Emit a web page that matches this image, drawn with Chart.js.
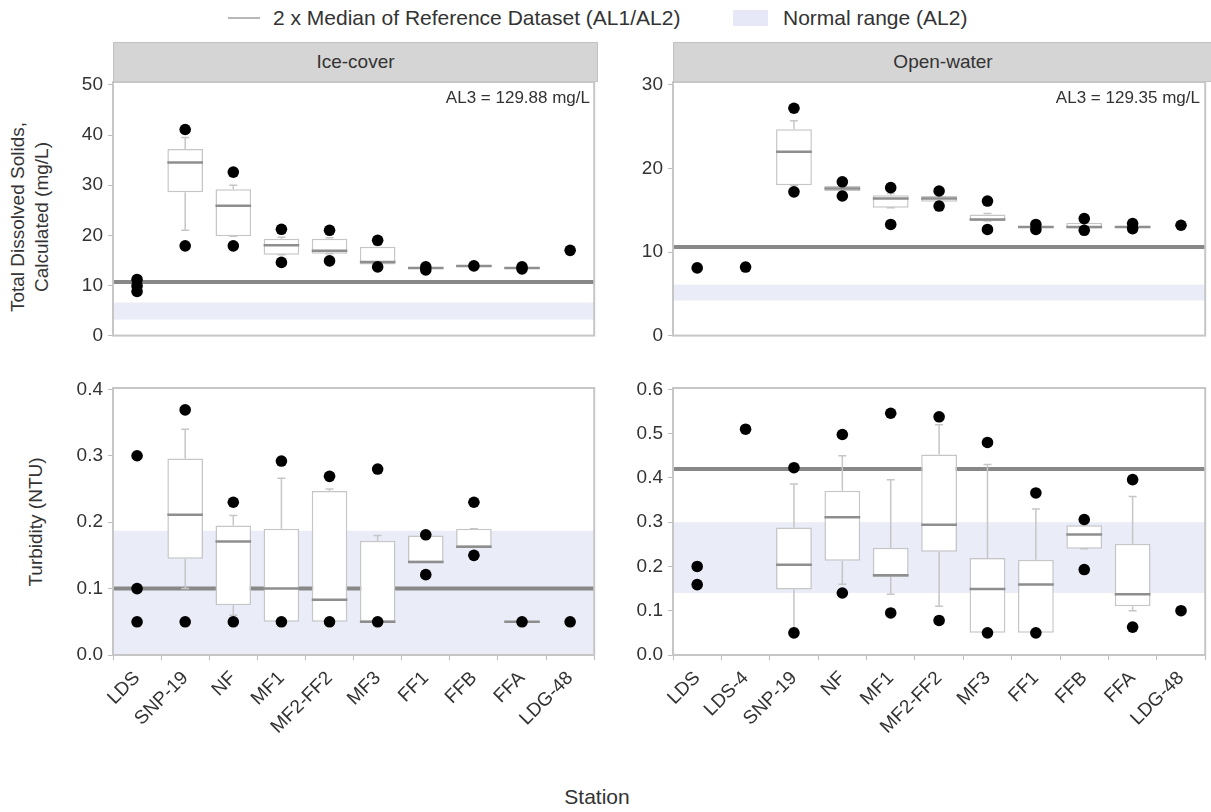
<!DOCTYPE html>
<html>
<head>
<meta charset="utf-8">
<script src="https://cdn.jsdelivr.net/npm/chart.js@4.4.0/dist/chart.umd.min.js"></script>
<style>
    body { margin: 0; width: 1211px; height: 812px; background: #fff; position: relative; overflow: hidden;
           font-family: 'Liberation Sans', Arial, sans-serif; color: #333; }
    .abs { position: absolute; white-space: nowrap; }
    canvas { position: absolute; }
    .strip { position: absolute; top: 42px; height: 40px; box-sizing: border-box; background: #d5d5d5;
             border: 1px solid #c2c2c2; text-align: center; line-height: 38px; font-size: 19px; }
    .ytitle { position: absolute; transform: translate(-50%, -50%) rotate(-90deg); text-align: center;
              font-size: 19px; line-height: 24px; white-space: nowrap; }
</style>
</head>
<body>
<div class="abs" style="left:228px;top:17px;width:32px;height:2px;background:#b8b8b8"></div>
<div class="abs" style="left:273px;top:6px;font-size:21px;line-height:24px">2 x Median of Reference Dataset (AL1/AL2)</div>
<div class="abs" style="left:733px;top:10px;width:35px;height:16px;background:#e6e8f7"></div>
<div class="abs" style="left:783px;top:6px;font-size:21px;line-height:24px">Normal range (AL2)</div>

<div class="strip" style="left:113px;width:485px">Ice-cover</div>
<div class="strip" style="left:673px;width:540px">Open-water</div>

<div class="ytitle" style="left:30px;top:217px">Total Dissolved Solids,<br>Calculated (mg/L)</div>
<div class="ytitle" style="left:36px;top:522px">Turbidity (NTU)</div>

<canvas id="tdsIce" width="600" height="292" style="left:0;top:60px"></canvas>
<canvas id="tdsOpen" width="611" height="292" style="left:600px;top:60px"></canvas>
<canvas id="turbIce" width="600" height="397" style="left:0;top:368px"></canvas>
<canvas id="turbOpen" width="611" height="397" style="left:600px;top:368px"></canvas>

<div class="abs" style="right:621px;top:88px;font-size:17px">AL3 = 129.88 mg/L</div>
<div class="abs" style="right:11px;top:88px;font-size:17px">AL3 = 129.35 mg/L</div>
<div class="abs" style="left:597px;top:785px;font-size:21px;line-height:24px;transform:translateX(-50%)">Station</div>

<script>
// stations
const iceStations = ['LDS', 'SNP-19', 'NF', 'MF1', 'MF2-FF2', 'MF3', 'FF1', 'FFB', 'FFA', 'LDG-48'];
const openStations = ['LDS', 'LDS-4', 'SNP-19', 'NF', 'MF1', 'MF2-FF2', 'MF3', 'FF1', 'FFB', 'FFA', 'LDG-48'];

// TDS, ice-cover (mg/L)
const tdsIceLo  = [null, 21.0, 19.8, 16.1, 16.3, 14.2, 13.5, 13.9, 13.5, null];
const tdsIceQ1  = [null, 28.6, 19.8, 16.1, 16.3, 14.2, 13.5, 13.9, 13.5, null];
const tdsIceMed = [null, 34.5, 25.9, 18.0, 16.9, 14.7, 13.5, 13.9, 13.5, null];
const tdsIceQ3  = [null, 37.2, 29.2, 19.3, 19.3, 17.7, 13.5, 13.9, 13.5, null];
const tdsIceHi  = [null, 39.5, 30.0, 19.6, 19.5, 18.0, 13.5, 13.9, 13.5, null];
const tdsIceDots = [[8.8, 9.9, 11.2], [41.1, 17.9], [32.6, 17.9], [21.2, 14.6], [21.0, 14.9],
                    [19.0, 13.7], [13.7, 13.1], [13.9], [13.7, 13.3], [17.0]];

// TDS, open-water (mg/L)
const tdsOpenLo  = [null, null, 18.0, 17.3, 15.3, 16.0, 13.7, 13.0, 12.8, 13.0, null];
const tdsOpenQ1  = [null, null, 18.0, 17.3, 15.3, 16.0, 13.7, 13.0, 12.8, 13.0, null];
const tdsOpenMed = [null, null, 22.0, 17.6, 16.4, 16.4, 13.9, 13.0, 13.0, 13.0, null];
const tdsOpenQ3  = [null, null, 24.7, 17.9, 16.8, 16.7, 14.5, 13.0, 13.5, 13.0, null];
const tdsOpenHi  = [null, null, 25.7, 18.0, 17.0, 16.9, 14.6, 13.0, 13.8, 13.0, null];
const tdsOpenDots = [[8.1], [8.2], [27.2, 17.2], [18.4, 16.7], [17.7, 13.3], [17.3, 15.5],
                     [16.1, 12.7], [13.3, 12.7], [14.0, 12.6], [13.4, 12.8], [13.2]];

// Turbidity, ice-cover (NTU)
const turbIceLo  = [null, 0.10, 0.06, 0.05, 0.05, 0.05, 0.14, 0.163, 0.05, null];
const turbIceQ1  = [null, 0.145, 0.075, 0.05, 0.05, 0.05, 0.14, 0.163, 0.05, null];
const turbIceMed = [null, 0.211, 0.171, 0.10, 0.083, 0.05, 0.14, 0.163, 0.05, null];
const turbIceQ3  = [null, 0.296, 0.195, 0.19, 0.247, 0.172, 0.18, 0.19, 0.05, null];
const turbIceHi  = [null, 0.34, 0.21, 0.266, 0.25, 0.18, 0.18, 0.19, 0.05, null];
const turbIceDots = [[0.30, 0.10, 0.05], [0.369, 0.05], [0.23, 0.05], [0.292, 0.05], [0.269, 0.05],
                     [0.28, 0.05], [0.181, 0.121], [0.23, 0.15], [0.05], [0.05]];

// Turbidity, open-water (NTU)
const turbOpenLo  = [null, null, 0.06, 0.16, 0.137, 0.11, 0.05, 0.05, 0.24, 0.10, null];
const turbOpenQ1  = [null, null, 0.148, 0.213, 0.176, 0.233, 0.05, 0.05, 0.24, 0.11, null];
const turbOpenMed = [null, null, 0.204, 0.311, 0.18, 0.294, 0.149, 0.159, 0.272, 0.137, null];
const turbOpenQ3  = [null, null, 0.288, 0.371, 0.242, 0.453, 0.219, 0.215, 0.293, 0.251, null];
const turbOpenHi  = [null, null, 0.386, 0.45, 0.396, 0.52, 0.43, 0.33, 0.293, 0.358, null];
const turbOpenDots = [[0.20, 0.159], [0.51], [0.423, 0.05], [0.498, 0.14], [0.546, 0.095], [0.538, 0.078],
                      [0.48, 0.05], [0.366, 0.05], [0.306, 0.193], [0.396, 0.063], [0.10]];

// reference lines (2 x median) and normal ranges
const tdsIceRef = 10.7, tdsOpenRef = 10.6, turbIceRef = 0.1, turbOpenRef = 0.42;
const tdsIceBand = [3.2, 6.6], tdsOpenBand = [4.2, 6.1], turbIceBand = [0, 0.187], turbOpenBand = [0.14, 0.30];

const FONT = "'Liberation Sans', Arial, sans-serif";
const BOX_LINE = '#c6c6c6';

const boxPlugin = {
    id: 'boxes',
    beforeDatasetsDraw(chart) {
        const o = chart.config.options.plugins.boxes;
        const { ctx, chartArea: a, scales: { y } } = chart;
        ctx.save();
        ctx.beginPath();
        ctx.rect(a.left, a.top, a.width, a.height);
        ctx.clip();
        const bt = y.getPixelForValue(o.band[1]);
        const bb = y.getPixelForValue(o.band[0]);
        ctx.fillStyle = '#eaecf8';
        ctx.fillRect(a.left, bt, a.width, bb - bt);
        const ry = y.getPixelForValue(o.ref);
        ctx.strokeStyle = '#888888';
        ctx.lineWidth = 4;
        ctx.beginPath();
        ctx.moveTo(a.left, ry);
        ctx.lineTo(a.right, ry);
        ctx.stroke();
        ctx.restore();
    },
    afterDatasetDraw(chart, args) {
        if (args.index !== 0) return;
        const ds = chart.data.datasets[0];
        const { ctx, scales: { x, y } } = chart;
        const meta = chart.getDatasetMeta(0);
        ctx.save();
        ds.med.forEach((m, i) => {
            if (m == null) return;
            const cx = x.getPixelForValue(i);
            const half = meta.data[i].width / 2;
            const [q1, q3] = ds.data[i];
            // whiskers
            ctx.strokeStyle = BOX_LINE;
            ctx.lineWidth = 1.5;
            ctx.beginPath();
            ctx.moveTo(cx, y.getPixelForValue(q3));
            ctx.lineTo(cx, y.getPixelForValue(ds.hi[i]));
            ctx.moveTo(cx, y.getPixelForValue(q1));
            ctx.lineTo(cx, y.getPixelForValue(ds.lo[i]));
            ctx.moveTo(cx - 4, y.getPixelForValue(ds.hi[i]));
            ctx.lineTo(cx + 4, y.getPixelForValue(ds.hi[i]));
            ctx.moveTo(cx - 4, y.getPixelForValue(ds.lo[i]));
            ctx.lineTo(cx + 4, y.getPixelForValue(ds.lo[i]));
            ctx.stroke();
            // median
            ctx.strokeStyle = '#8e8e8e';
            ctx.lineWidth = 2.5;
            ctx.beginPath();
            ctx.moveTo(cx - half, y.getPixelForValue(m));
            ctx.lineTo(cx + half, y.getPixelForValue(m));
            ctx.stroke();
        });
        ctx.restore();
    },
    afterDraw(chart) {
        const { ctx, chartArea: a } = chart;
        ctx.save();
        ctx.strokeStyle = BOX_LINE;
        ctx.lineWidth = 2;
        ctx.strokeRect(a.left, a.top, a.width, a.height);
        ctx.restore();
    }
};

const boxChart = (id, stations, lo, q1, med, q3, hi, dots, o) => {
    // dots go on the station label so the category scale places them
    const points = [];
    dots.forEach((vals, i) => vals.forEach(v => points.push({ x: stations[i], y: v })));
    return new Chart(document.getElementById(id), {
        type: 'bar',
        data: {
            labels: stations,
            datasets: [{
                type: 'bar',
                data: q1.map((v, i) => v == null ? null : [v, q3[i]]),
                lo: lo, med: med, hi: hi,
                backgroundColor: '#ffffff',
                borderColor: BOX_LINE,
                borderWidth: 1.5,
                borderSkipped: false,
                categoryPercentage: 1,
                barPercentage: 0.74,
                order: 1
            }, {
                type: 'line',
                data: points,
                showLine: false,
                pointRadius: 5.8,
                pointBackgroundColor: '#000',
                pointBorderColor: '#000',
                pointBorderWidth: 0,
                order: 0
            }]
        },
        options: {
            responsive: false,
            animation: false,
            events: [],
            layout: { padding: { top: o.padTop, right: o.padRight, left: 0, bottom: 0 } },
            plugins: {
                legend: { display: false },
                tooltip: { enabled: false },
                boxes: { band: o.band, ref: o.ref }
            },
            scales: {
                x: {
                    afterFit: s => { s.height = o.xHeight; },
                    grid: { drawOnChartArea: false, drawTicks: o.showX, tickLength: 5, color: '#bdbdbd' },
                    border: { display: false },
                    ticks: {
                        display: o.showX, minRotation: 45, maxRotation: 45, padding: 7,
                        color: '#333', font: { family: FONT, size: 19 }
                    }
                },
                y: {
                    min: 0, max: o.max,
                    afterFit: s => { s.width = o.yWidth; },
                    grid: { drawOnChartArea: false, tickLength: 5, color: '#bdbdbd' },
                    border: { display: false },
                    ticks: {
                        stepSize: o.step, includeBounds: false, padding: 5,
                        color: '#333', font: { family: FONT, size: 19 },
                        callback: v => v.toFixed(o.decimals)
                    }
                }
            }
        },
        plugins: [boxPlugin]
    });
};

boxChart('tdsIce', iceStations, tdsIceLo, tdsIceQ1, tdsIceMed, tdsIceQ3, tdsIceHi, tdsIceDots,
    { max: 50.57, step: 10, decimals: 0, band: tdsIceBand, ref: tdsIceRef, padTop: 22, padRight: 3, yWidth: 113, xHeight: 2, showX: false });
boxChart('tdsOpen', openStations, tdsOpenLo, tdsOpenQ1, tdsOpenMed, tdsOpenQ3, tdsOpenHi, tdsOpenDots,
    { max: 30.34, step: 10, decimals: 0, band: tdsOpenBand, ref: tdsOpenRef, padTop: 22, padRight: 0, yWidth: 73, xHeight: 2, showX: false });
boxChart('turbIce', iceStations, turbIceLo, turbIceQ1, turbIceMed, turbIceQ3, turbIceHi, turbIceDots,
    { max: 0.402, step: 0.1, decimals: 1, band: turbIceBand, ref: turbIceRef, padTop: 20, padRight: 3, yWidth: 113, xHeight: 110, showX: true });
boxChart('turbOpen', openStations, turbOpenLo, turbOpenQ1, turbOpenMed, turbOpenQ3, turbOpenHi, turbOpenDots,
    { max: 0.603, step: 0.1, decimals: 1, band: turbOpenBand, ref: turbOpenRef, padTop: 20, padRight: 0, yWidth: 73, xHeight: 110, showX: true });
</script>
</body>
</html>
